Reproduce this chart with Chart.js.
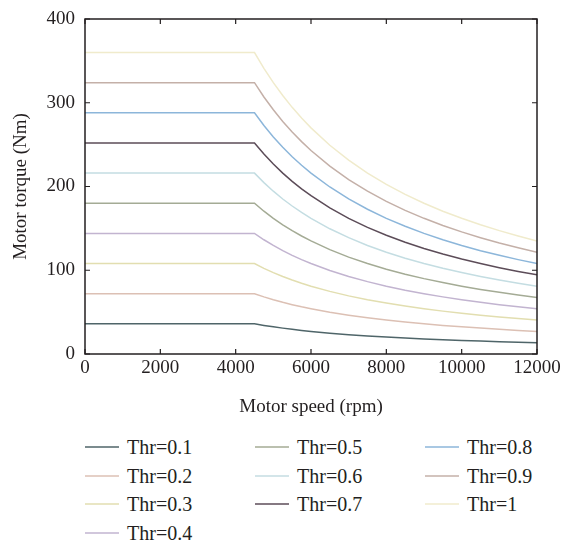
<!DOCTYPE html>
<html><head><meta charset="utf-8">
<script src="https://cdn.jsdelivr.net/npm/chart.js@4/dist/chart.umd.min.js"></script>
<style>
html,body{margin:0;padding:0;background:#fff;}
#wrap{position:relative;width:562px;height:543px;overflow:hidden;}
#c{position:absolute;left:0;top:0;}
.leg{position:absolute;height:20px;font-family:"Liberation Serif","DejaVu Serif",serif;font-size:20px;color:#231f20;line-height:20px;white-space:nowrap;}
.leg svg{position:absolute;left:0;top:0;}
.leg .tx{position:absolute;left:42px;top:0;}
</style></head>
<body><div id="wrap"><canvas id="c" width="562" height="420"></canvas></div>
<script>
const speeds = [0, 4500, 4750, 5000, 5250, 5500, 5750, 6000, 6500, 7000, 7500, 8000, 8500, 9000, 9500, 10000, 10500, 11000, 11500, 12000];
const seriesLabels = ["Thr=0.1","Thr=0.2","Thr=0.3","Thr=0.4","Thr=0.5","Thr=0.6","Thr=0.7","Thr=0.8","Thr=0.9","Thr=1"];
const thr01 = [36, 36, 34.1, 32.4, 30.9, 29.5, 28.2, 27, 24.9, 23.1, 21.6, 20.3, 19.1, 18, 17.1, 16.2, 15.4, 14.7, 14.1, 13.5];
const thr02 = [72, 72, 68.2, 64.8, 61.7, 58.9, 56.3, 54, 49.8, 46.3, 43.2, 40.5, 38.1, 36, 34.1, 32.4, 30.9, 29.5, 28.2, 27];
const thr03 = [108, 108, 102.3, 97.2, 92.6, 88.4, 84.5, 81, 74.8, 69.4, 64.8, 60.8, 57.2, 54, 51.2, 48.6, 46.3, 44.2, 42.3, 40.5];
const thr04 = [144, 144, 136.4, 129.6, 123.4, 117.8, 112.7, 108, 99.7, 92.6, 86.4, 81, 76.2, 72, 68.2, 64.8, 61.7, 58.9, 56.3, 54];
const thr05 = [180, 180, 170.5, 162, 154.3, 147.3, 140.9, 135, 124.6, 115.7, 108, 101.3, 95.3, 90, 85.3, 81, 77.1, 73.6, 70.4, 67.5];
const thr06 = [216, 216, 204.6, 194.4, 185.1, 176.7, 169, 162, 149.5, 138.9, 129.6, 121.5, 114.4, 108, 102.3, 97.2, 92.6, 88.4, 84.5, 81];
const thr07 = [252, 252, 238.7, 226.8, 216, 206.2, 197.2, 189, 174.5, 162, 151.2, 141.8, 133.4, 126, 119.4, 113.4, 108, 103.1, 98.6, 94.5];
const thr08 = [288, 288, 272.8, 259.2, 246.9, 235.6, 225.4, 216, 199.4, 185.1, 172.8, 162, 152.5, 144, 136.4, 129.6, 123.4, 117.8, 112.7, 108];
const thr09 = [324, 324, 306.9, 291.6, 277.7, 265.1, 253.6, 243, 224.3, 208.3, 194.4, 182.3, 171.5, 162, 153.5, 145.8, 138.9, 132.5, 126.8, 121.5];
const thr10 = [360, 360, 341.1, 324, 308.6, 294.5, 281.7, 270, 249.2, 231.4, 216, 202.5, 190.6, 180, 170.5, 162, 154.3, 147.3, 140.9, 135];
const xTicks = [0, 2000, 4000, 6000, 8000, 10000, 12000];
const yTicks = [0, 100, 200, 300, 400];

const seriesValues = [thr01,thr02,thr03,thr04,thr05,thr06,thr07,thr08,thr09,thr10];
const colors = ["#4f6569","#dcc0b4","#e2deb0","#c2b4d0","#a4ab95","#c4dde2","#5c4c58","#8cb6da","#c4b0a8","#f0ebcc"];

const FONT = "'Liberation Serif','DejaVu Serif',serif";
const datasets = seriesValues.map((vals,i)=>({
  label: seriesLabels[i],
  data: vals.map((v,j)=>({x: speeds[j], y: v})),
  borderColor: colors[i], borderWidth: 1.5, pointRadius: 0, fill:false, tension: 0
}));

const frame = {
  id:'frame',
  afterDraw(chart){
    const {ctx, chartArea:a, scales:{x,y}} = chart;
    ctx.save();
    ctx.strokeStyle = '#231f20'; ctx.lineWidth = 1.5;
    ctx.strokeRect(a.left, a.top, a.right-a.left, a.bottom-a.top);
    ctx.lineWidth = 1.2;
    const L = 5;
    ctx.beginPath();
    xTicks.forEach(t=>{ const px = x.getPixelForValue(t);
      ctx.moveTo(px, a.bottom); ctx.lineTo(px, a.bottom-L);
      ctx.moveTo(px, a.top); ctx.lineTo(px, a.top+L); });
    yTicks.forEach(t=>{ const py = y.getPixelForValue(t);
      ctx.moveTo(a.left, py); ctx.lineTo(a.left+L, py);
      ctx.moveTo(a.right, py); ctx.lineTo(a.right-L, py); });
    ctx.stroke();
    ctx.restore();
  }
};

new Chart(document.getElementById('c'), {
  type:'line',
  data:{datasets},
  options:{
    responsive:false, animation:false,
    layout:{padding:{top:19,right:25,left:0,bottom:0}},
    plugins:{legend:{display:false}, tooltip:{enabled:false}},
    scales:{
      x:{type:'linear', min:0, max:12000,
         afterBuildTicks(s){ s.ticks = xTicks.map(v=>({value:v})); },
         afterFit(s){ s.height = 66; s.paddingLeft = 0; s.paddingRight = 0; },
         grid:{drawOnChartArea:false, drawTicks:false}, border:{display:false},
         ticks:{color:'#231f20', font:{family:FONT,size:19}, padding:3, maxRotation:0, autoSkip:false, callback:v=>String(v)},
         title:{display:true, text:'Motor speed (rpm)', color:'#231f20', font:{family:FONT,size:19}, padding:{top:0,bottom:2}}},
      y:{type:'linear', min:0, max:400,
         afterBuildTicks(s){ s.ticks = yTicks.map(v=>({value:v})); },
         afterFit(s){ s.width = 85; s.paddingTop = 0; s.paddingBottom = 0; },
         grid:{drawOnChartArea:false, drawTicks:false}, border:{display:false},
         ticks:{color:'#231f20', font:{family:FONT,size:19}, padding:10, callback:v=>String(v)},
         title:{display:true, text:'Motor torque (Nm)', color:'#231f20', font:{family:FONT,size:19}, padding:{top:10,bottom:0}}}
    }
  },
  plugins:[frame]
});

// legend, column-major in 3 columns
const wrap = document.getElementById('wrap');
const colX = [85, 255, 425];
const rowY = [447, 476, 504, 533];
const colOf = [0,0,0,0,1,1,1,2,2,2];
const rowOf = [0,1,2,3,0,1,2,0,1,2];
seriesLabels.forEach((lab,i)=>{
  const d = document.createElement('div');
  d.className='leg';
  d.style.left = colX[colOf[i]]+'px';
  d.style.top = (rowY[rowOf[i]]-10)+'px';
  d.innerHTML = '<svg width="36" height="20"><line x1="0" y1="10" x2="34" y2="10" stroke="'+colors[i]+'" stroke-width="1.6"/></svg><div class="tx">'+lab+'</div>';
  wrap.appendChild(d);
});
</script></body></html>
